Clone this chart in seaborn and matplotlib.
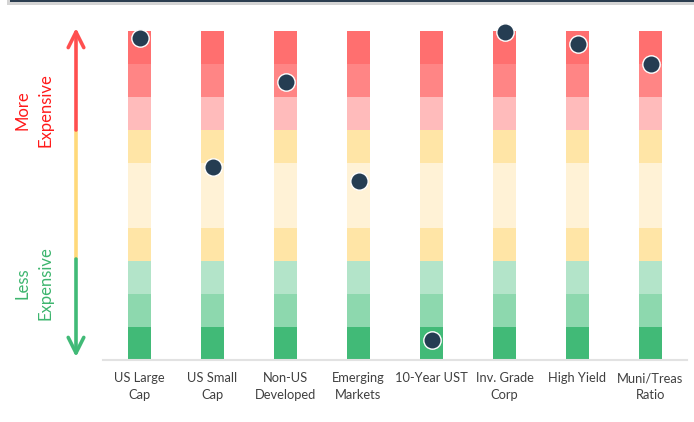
import matplotlib
matplotlib.use("Agg")
import matplotlib.pyplot as plt
import seaborn as sns
import numpy as np
import pandas as pd

categories = ["US Large\nCap", "US Small\nCap", "Non-US\nDeveloped", "Emerging\nMarkets",
              "10-Year UST", "Inv. Grade\nCorp", "High Yield", "Muni/Treas\nRatio"]
scores = [9.78, 5.88, 8.44, 5.44, 0.61, 9.96, 9.6, 9.0]
segment_heights = [1, 1, 1, 1, 2, 1, 1, 1, 1]
segment_colors = ["#41BA77", "#8DD8AE", "#B3E4C9", "#FFE5A6", "#FFF2D6",
                  "#FFE5A6", "#FFBBBB", "#FF8585", "#FF6F6F"]

W, H = 694, 422
sns.set_theme(style="white")
plt.rcParams["font.family"] = ["Lato", "DejaVu Sans"]

fig = plt.figure(figsize=(W / 100, H / 100), dpi=100)
ax = fig.add_axes([103 / W, 1 - 360 / H, (687 - 103) / W, (360 - 31) / H])

bottom = 0.0
for h, c in zip(segment_heights, segment_colors):
    df = pd.DataFrame({"cat": categories, "h": [h] * len(categories)})
    sns.barplot(data=df, x="cat", y="h", bottom=bottom, color=c, saturation=1,
                width=0.32, errorbar=None, linewidth=0, ax=ax)
    bottom += h

dots = pd.DataFrame({"cat": categories, "score": scores})
sns.stripplot(data=dots, x="cat", y="score", jitter=False, size=12.5, color="#253D52",
              edgecolor="white", linewidth=1.0, ax=ax, clip_on=False, zorder=5)

ax.set_xlim(-0.5, 7.5)
ax.set_ylim(0, sum(segment_heights))
ax.set_xlabel("")
ax.set_ylabel("")
ax.set_yticks([])
for s in ["top", "right", "left"]:
    ax.spines[s].set_visible(False)
ax.spines["bottom"].set_color("#E2E2E2")
ax.spines["bottom"].set_linewidth(1.5)
ax.tick_params(axis="x", length=0, pad=9, labelsize=9.3, labelcolor="#404040")
for t in ax.get_xticklabels():
    t.set_linespacing(1.45)

# overlay in pixel coordinates
ov = fig.add_axes([0, 0, 1, 1], facecolor="none")
ov.set_xlim(0, W)
ov.set_ylim(H, 0)
ov.axis("off")

# top border
ov.add_patch(plt.Rectangle((7, 0), W - 7, 4.5, color="#D4D4D4", lw=0))
ov.add_patch(plt.Rectangle((10, 0), W - 10, 2.2, color="#2B3E50", lw=0))

ax_x = 76
ov.annotate("", xy=(ax_x, 28), xytext=(ax_x, 130),
            arrowprops=dict(arrowstyle="->", color="#FF4F4F", lw=2.6,
                            mutation_scale=28, shrinkA=0, shrinkB=0))
ov.plot([ax_x, ax_x], [130, 259], color="#FFD97A", lw=2.6, solid_capstyle="butt")
ov.annotate("", xy=(ax_x, 357), xytext=(ax_x, 259),
            arrowprops=dict(arrowstyle="->", color="#41BA77", lw=2.6,
                            mutation_scale=28, shrinkA=0, shrinkB=0))

ov.text(34, 110, "More\nExpensive", rotation=90, ha="center", va="center",
        multialignment="center", color="#FF1A1A", fontsize=12, linespacing=1.5)
ov.text(34, 283, "Less\nExpensive", rotation=90, ha="center", va="center",
        multialignment="center", color="#3DB56E", fontsize=12, linespacing=1.5)

fig.savefig("out.png", dpi=100)
